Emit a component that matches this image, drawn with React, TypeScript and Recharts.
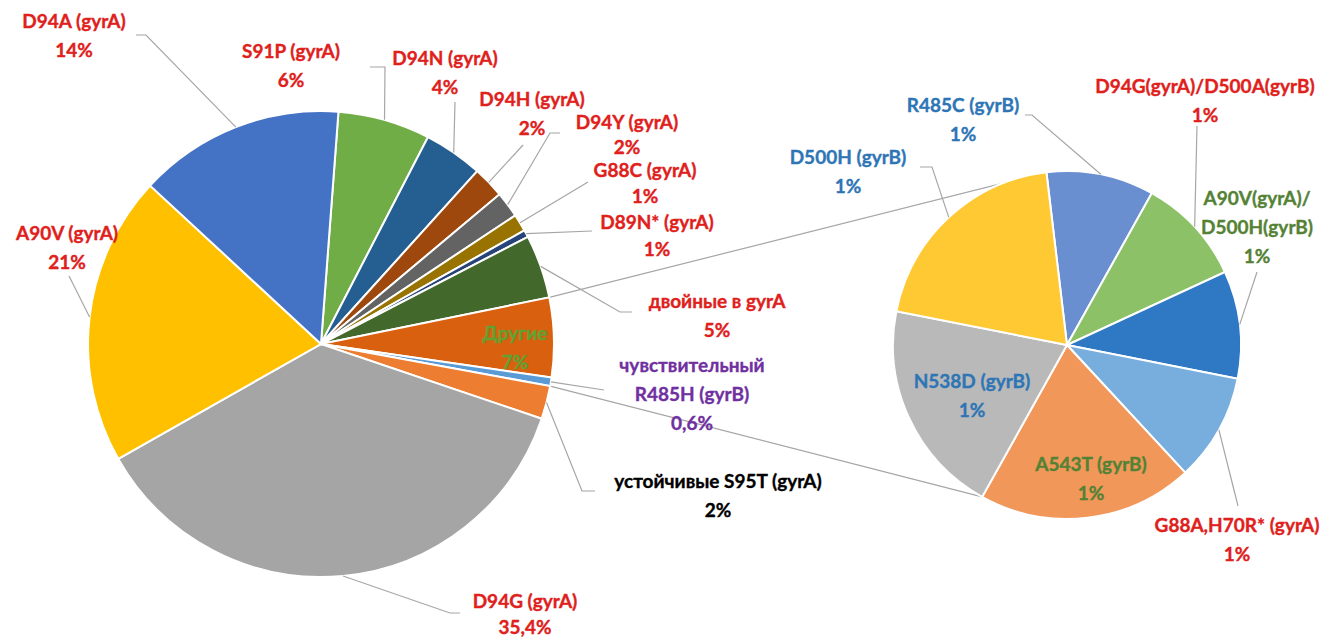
import React from 'react';
import { PieChart, Pie, Cell, Customized } from 'recharts';

// ---------- DATA ----------
// Main pie (clockwise from top)
const mainNames = [
  'S91P (gyrA)',
  'D94N (gyrA)',
  'D94H (gyrA)',
  'D94Y (gyrA)',
  'G88C (gyrA)',
  'D89N* (gyrA)',
  'двойные в gyrA',
  'Другие',
  'чувствительный\nR485H (gyrB)',
  'устойчивые S95T (gyrA)',
  'D94G (gyrA)',
  'A90V (gyrA)',
  'D94A (gyrA)',
];
const mainValues = [6.4, 4.1, 2.2, 1.8, 1.2, 0.5, 4.4, 5.5, 0.6, 2.3, 36.6, 20.1, 14.3];
const mainPercents = ['6%', '4%', '2%', '2%', '1%', '1%', '5%', '7%', '0,6%', '2%', '35,4%', '21%', '14%'];

// Secondary pie ("Другие" breakdown, clockwise from top)
const otherNames = [
  'R485C (gyrB)',
  'D94G(gyrA)/D500A(gyrB)',
  'A90V(gyrA)/\nD500H(gyrB)',
  'G88A,H70R* (gyrA)',
  'A543T (gyrB)',
  'N538D (gyrB)',
  'D500H (gyrB)',
];
const otherValues = [1, 1, 1, 1, 2, 2, 2];
const otherPercents = ['1%', '1%', '1%', '1%', '1%', '1%', '1%'];

// ---------- STYLE / LAYOUT ----------
const mainColors = [
  '#70AD47', '#255E91', '#9E480E', '#636363', '#997300', '#264478',
  '#43682B', '#D9600E', '#5B9BD5', '#ED7D31', '#A5A5A5', '#FFC000', '#4472C4',
];
const otherColors = ['#6A8FD1', '#8CC168', '#2F78C4', '#78AEDE', '#F1975A', '#B9B9B9', '#FFC933'];

const RED = '#E0201B';
const BLUE = '#2E75B6';
const GREEN = '#548235';
const PURPLE = '#7030A0';

type LabelLayout = { x: number; y: number; color: string; leader?: number[][]; gap?: number };

const mainLayout: LabelLayout[] = [
  { x: 291, y: 50, color: RED, leader: [[385, 67], [370, 67]] },
  { x: 445, y: 57, color: RED, leader: [[455, 102]] },
  { x: 532, y: 98, color: RED, leader: [[523, 145]] },
  { x: 627, y: 121, color: RED, leader: [[550, 133], [560, 133]], gap: 25 },
  { x: 645, y: 169, color: RED, leader: [[588, 182]], gap: 26 },
  { x: 657, y: 221, color: RED, leader: [[592, 231]], gap: 27 },
  { x: 717, y: 300, color: RED, leader: [[620, 312], [632, 312]] },
  { x: 515, y: 332, color: '#62A032' },
  { x: 692, y: 364, color: PURPLE, leader: [[604, 390]] },
  { x: 718, y: 480, color: '#000000', leader: [[582, 491], [595, 491]] },
  { x: 525, y: 600, color: RED, leader: [[450, 613], [460, 613]], gap: 26 },
  { x: 67, y: 232, color: RED, leader: [[69, 276]] },
  { x: 74, y: 20, color: RED, leader: [[146, 35], [136, 35]] },
];

const otherLayout: LabelLayout[] = [
  { x: 963, y: 104, color: BLUE, leader: [[1032, 115], [1025, 115]] },
  { x: 1205, y: 85, color: RED, leader: [[1197, 126]] },
  { x: 1257, y: 197, color: GREEN, leader: [[1257, 272]] },
  { x: 1237, y: 524, color: RED, leader: [[1238, 506]] },
  { x: 1091, y: 463, color: GREEN },
  { x: 972, y: 380, color: BLUE },
  { x: 848, y: 156, color: BLUE, leader: [[932, 167], [920, 167]] },
];

const W = 1333;
const H = 638;
const MAIN = { cx: 321, cy: 344, r: 233, start: 85.7 };
const OTHER = { cx: 1067, cy: 345, r: 174, start: 96.8 };
const FONT = 'Lato, Carlito, "Open Sans", sans-serif';
const FS = 19;
const LINE = 29;

const RAD = Math.PI / 180;
const polar = (cx: number, cy: number, r: number, a: number) => [
  cx + r * Math.cos(-a * RAD),
  cy + r * Math.sin(-a * RAD),
];

const makeLabel = (names: string[], percents: string[], layout: LabelLayout[]) => (props: any) => {
  const { cx, cy, midAngle, outerRadius, index } = props;
  const L = layout[index];
  if (!L) return null;
  const lines = [...names[index].split('\n'), percents[index]];
  const [ax, ay] = polar(cx, cy, outerRadius, midAngle);
  const pts = L.leader ? [[ax, ay], ...L.leader] : null;
  const gap = L.gap ?? LINE;
  return (
    <g key={`lbl-${index}`}>
      {pts && (
        <polyline
          points={pts.map((p) => `${p[0]},${p[1]}`).join(' ')}
          fill="none"
          stroke="#A6A6A6"
          strokeWidth={1.2}
        />
      )}
      {lines.map((t, i) => (
        <text
          key={i}
          x={L.x}
          y={L.y + i * gap}
          fill={L.color}
          stroke={L.color}
          strokeWidth={0.35}
          textAnchor="middle"
          dominantBaseline="central"
          fontFamily={FONT}
          fontWeight={700}
          fontSize={FS}
        >
          {t}
        </text>
      ))}
    </g>
  );
};

const sum = (a: number[]) => a.reduce((s, v) => s + v, 0);

const Connectors = () => {
  const mainTotal = sum(mainValues);
  const otherTotal = sum(otherValues);
  // "Другие" group spans slices index 7..8 in the main pie
  const upperA = MAIN.start - (360 * sum(mainValues.slice(0, 7))) / mainTotal;
  const lowerA = MAIN.start - (360 * sum(mainValues.slice(0, 9))) / mainTotal;
  const topA = OTHER.start;
  const botA = OTHER.start - (360 * sum(otherValues.slice(0, 5))) / otherTotal;
  const p1 = polar(MAIN.cx, MAIN.cy, MAIN.r, upperA);
  const p2 = polar(OTHER.cx, OTHER.cy, OTHER.r, topA);
  const p3 = polar(MAIN.cx, MAIN.cy, MAIN.r, lowerA);
  const p4 = polar(OTHER.cx, OTHER.cy, OTHER.r, botA);
  return (
    <g>
      <line x1={p1[0]} y1={p1[1]} x2={p2[0]} y2={p2[1]} stroke="#A6A6A6" strokeWidth={1.2} />
      <line x1={p3[0]} y1={p3[1]} x2={p4[0]} y2={p4[1]} stroke="#A6A6A6" strokeWidth={1.2} />
    </g>
  );
};

const mainData = mainNames.map((n, i) => ({ name: n, value: mainValues[i] }));
const otherData = otherNames.map((n, i) => ({ name: n, value: otherValues[i] }));

export default function App() {
  return (
    <div style={{ position: 'absolute', left: 0, top: 0, width: W, height: H, background: '#fff' }}>
      <PieChart width={W} height={H} margin={{ top: 0, right: 0, bottom: 0, left: 0 }}>
        <Pie
          data={mainData}
          dataKey="value"
          nameKey="name"
          cx={MAIN.cx}
          cy={MAIN.cy}
          outerRadius={MAIN.r}
          startAngle={MAIN.start}
          endAngle={MAIN.start - 360}
          stroke="#ffffff"
          strokeWidth={2}
          isAnimationActive={false}
          labelLine={false}
          label={makeLabel(mainNames, mainPercents, mainLayout)}
        >
          {mainData.map((d, i) => (
            <Cell key={d.name} fill={mainColors[i]} />
          ))}
        </Pie>
        <Pie
          data={otherData}
          dataKey="value"
          nameKey="name"
          cx={OTHER.cx}
          cy={OTHER.cy}
          outerRadius={OTHER.r}
          startAngle={OTHER.start}
          endAngle={OTHER.start - 360}
          stroke="#ffffff"
          strokeWidth={2}
          isAnimationActive={false}
          labelLine={false}
          label={makeLabel(otherNames, otherPercents, otherLayout)}
        >
          {otherData.map((d, i) => (
            <Cell key={d.name} fill={otherColors[i]} />
          ))}
        </Pie>
        <Customized component={Connectors} />
      </PieChart>
    </div>
  );
}
